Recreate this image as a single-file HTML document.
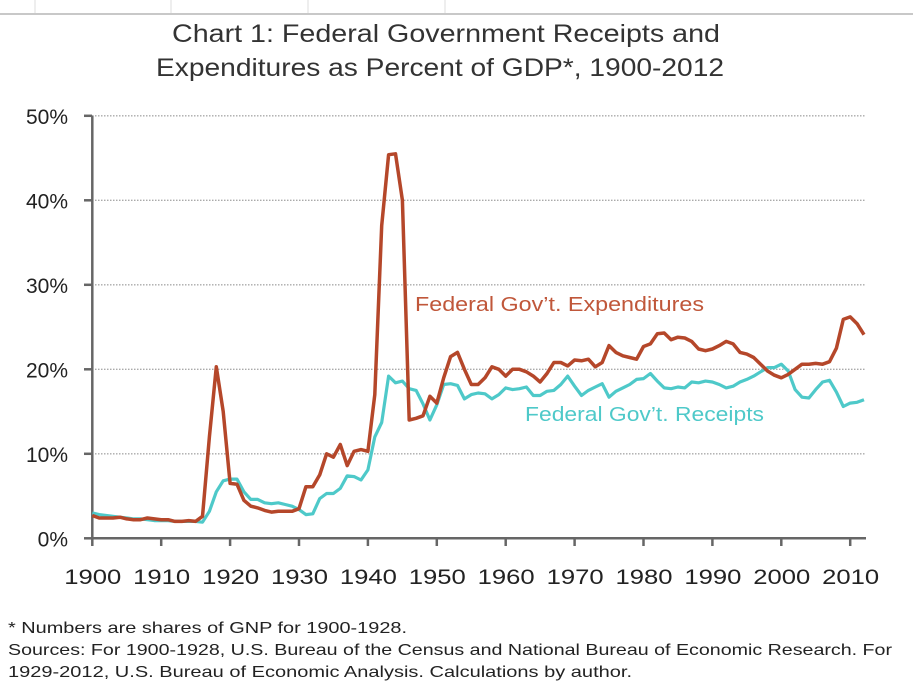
<!DOCTYPE html>
<html><head><meta charset="utf-8"><style>
body{margin:0;background:#fff;width:913px;height:697px;overflow:hidden}
svg{display:block}
text{font-family:"Liberation Sans",sans-serif}
</style></head><body>
<svg id="s" width="913" height="697" viewBox="0 0 913 697">
<line x1="0" y1="14" x2="913" y2="14" stroke="#c8c8c8" stroke-width="2"/>
<g stroke="#ddd" stroke-width="1"><line x1="35" y1="0" x2="35" y2="13"/><line x1="171" y1="0" x2="171" y2="13"/><line x1="308" y1="0" x2="308" y2="13"/><line x1="445" y1="0" x2="445" y2="13"/></g>
<text x="172" y="42" font-size="25" fill="#333" textLength="548" lengthAdjust="spacingAndGlyphs">Chart 1: Federal Government Receipts and</text>
<text x="156" y="76" font-size="25" fill="#333" textLength="568" lengthAdjust="spacingAndGlyphs">Expenditures as Percent of GDP*, 1900-2012</text>
<g id="grid" stroke="#aaa" stroke-width="1.3" stroke-dasharray="1.5 1.5"></g>
<g id="axes" stroke="#666" stroke-width="2.5"></g>
<g id="labels" font-size="21" fill="#222"></g>
<polyline id="rec" fill="none" stroke="#4ec9c9" stroke-width="3.2" stroke-linejoin="round"/>
<polyline id="exp" fill="none" stroke="#b5472a" stroke-width="3.5" stroke-linejoin="round"/>
<text x="415" y="311" font-size="20" fill="#c0573a" textLength="289" lengthAdjust="spacingAndGlyphs">Federal Gov’t. Expenditures</text>
<text x="525" y="421" font-size="20" fill="#4ec9c9" textLength="239" lengthAdjust="spacingAndGlyphs">Federal Gov’t. Receipts</text>
<text x="8" y="633" font-size="16" fill="#222" textLength="399" lengthAdjust="spacingAndGlyphs">* Numbers are shares of GNP for 1900-1928.</text>
<text x="8" y="655" font-size="16" fill="#222" textLength="884" lengthAdjust="spacingAndGlyphs">Sources: For 1900-1928, U.S. Bureau of the Census and National Bureau of Economic Research.  For</text>
<text x="8" y="677" font-size="16" fill="#222" textLength="624" lengthAdjust="spacingAndGlyphs">1929-2012, U.S. Bureau of Economic Analysis.  Calculations by author.</text>
</svg>
<script>
var X=function(y){return 92.3+(y-1900)*6.89},Y=function(v){return 538.3-v*8.45};
var ns="http://www.w3.org/2000/svg";
function el(p,t,a,txt){var e=document.createElementNS(ns,t);for(var k in a)e.setAttribute(k,a[k]);if(txt)e.textContent=txt;document.getElementById(p).appendChild(e);}
for(var i=1;i<=5;i++)el("grid","line",{x1:92,x2:866,y1:Y(i*10),y2:Y(i*10)});
el("axes","line",{x1:92.3,x2:92.3,y1:Y(50),y2:539.5});
el("axes","line",{x1:91,x2:866,y1:538.3,y2:538.3});
for(var i=0;i<=5;i++){el("axes","line",{x1:84,x2:92,y1:Y(i*10),y2:Y(i*10)});el("labels","text",{x:68,y:Y(i*10)+8,"text-anchor":"end"},i*10+"%");}
for(var y=1900;y<=2010;y+=10){el("axes","line",{x1:X(y),x2:X(y),y1:538,y2:546});el("labels","text",{x:X(y)-28,y:584,textLength:57,lengthAdjust:"spacingAndGlyphs"},""+y);}
var E=[2.7,2.4,2.4,2.4,2.5,2.3,2.2,2.2,2.4,2.3,2.2,2.2,2.0,2.0,2.1,2.0,2.6,12,20.3,15,6.5,6.4,4.5,3.8,3.6,3.3,3.1,3.2,3.2,3.2,3.5,6.1,6.1,7.5,10,9.6,11.1,8.6,10.3,10.5,10.3,17,37,45.4,45.5,40,14,14.2,14.5,16.8,16,19,21.5,22,20,18.2,18.2,19,20.3,20,19.2,20,20,19.7,19.2,18.5,19.5,20.8,20.8,20.4,21.1,21,21.2,20.3,20.8,22.8,22,21.6,21.4,21.2,22.7,23,24.2,24.3,23.5,23.8,23.7,23.3,22.4,22.2,22.4,22.8,23.3,23,22,21.8,21.4,20.6,19.8,19.3,19.0,19.4,20,20.6,20.6,20.7,20.6,20.9,22.5,25.9,26.2,25.4,24.1];
var R=[3.0,2.8,2.7,2.6,2.5,2.4,2.3,2.3,2.2,2.1,2.1,2.1,2.0,2.0,2.0,2.0,1.9,3.2,5.5,6.8,7.0,7.0,5.5,4.6,4.6,4.2,4.1,4.2,4.0,3.8,3.4,2.8,2.9,4.7,5.3,5.3,5.9,7.4,7.3,6.9,8.1,12,13.7,19.2,18.4,18.6,17.7,17.5,15.9,14.0,15.8,18.2,18.3,18.1,16.5,17.0,17.2,17.1,16.5,17.0,17.8,17.6,17.7,17.9,16.9,16.9,17.4,17.5,18.2,19.2,18,16.9,17.5,17.9,18.3,16.7,17.4,17.8,18.2,18.8,18.9,19.5,18.6,17.8,17.7,17.9,17.8,18.5,18.4,18.6,18.5,18.2,17.8,18,18.5,18.8,19.2,19.7,20.2,20.2,20.6,19.8,17.6,16.7,16.6,17.6,18.5,18.7,17.3,15.6,16.0,16.1,16.4];
function pts(a){return a.map(function(v,i){return X(1900+i).toFixed(1)+","+Y(v).toFixed(1)}).join(" ")}
document.getElementById("exp").setAttribute("points",pts(E));
document.getElementById("rec").setAttribute("points",pts(R));
</script>
</body></html>
